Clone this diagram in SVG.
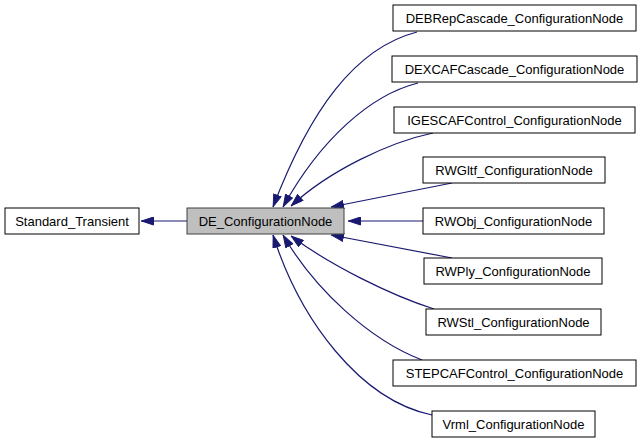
<svg xmlns="http://www.w3.org/2000/svg" width="641" height="443" viewBox="0 0 641 443">
<style>
.node rect{fill:#ffffff;stroke:#000000;stroke-width:1}
.node.cur rect{fill:#bfbfbf;stroke:#404040}
.node text{font-family:"Liberation Sans",Arial,sans-serif;font-size:13px;fill:#000000;text-anchor:middle}
.edges path{fill:none;stroke:#191970;stroke-width:1.2}
</style>
<defs>
<marker id="ah" viewBox="0 0 13 9" refX="13" refY="4.5" markerWidth="13" markerHeight="9" markerUnits="userSpaceOnUse" orient="auto">
<path d="M0.5,0.5 L12.5,4.5 L0.5,8.5 z" fill="#191970" stroke="#191970" stroke-width="1"/>
</marker>
</defs>
<rect width="641" height="443" fill="#ffffff"/>
<g class="edges">
<path marker-end="url(#ah)" d="M187,221 L141,221"/>
<path marker-end="url(#ah)" d="M417,32 C355,48 310,110 273,207"/>
<path marker-end="url(#ah)" d="M418,83 C370,95 320,140 283,207"/>
<path marker-end="url(#ah)" d="M433,133 C390,142 330,170 291,206"/>
<path marker-end="url(#ah)" d="M452,183 L331,207"/>
<path marker-end="url(#ah)" d="M423,221 L348,221"/>
<path marker-end="url(#ah)" d="M452,258 L331,235"/>
<path marker-end="url(#ah)" d="M434,309 C390,295 330,265 291,236"/>
<path marker-end="url(#ah)" d="M422,360 C370,340 315,290 283,235"/>
<path marker-end="url(#ah)" d="M432,415 C360,400 300,320 273,235"/>
</g>
<g id="Standard_Transient" class="node"><rect x="5" y="208" width="134" height="26"/><text x="72" y="225.5">Standard_Transient</text></g>
<g id="DE_ConfigurationNode" class="node cur"><rect x="187" y="208" width="157" height="26"/><text x="265.5" y="225.5">DE_ConfigurationNode</text></g>
<g id="DEBRepCascade_ConfigurationNode" class="node"><rect x="393" y="5" width="243" height="26"/><text x="514.5" y="22.5">DEBRepCascade_ConfigurationNode</text></g>
<g id="DEXCAFCascade_ConfigurationNode" class="node"><rect x="392" y="56" width="245" height="26"/><text x="514.5" y="73.5">DEXCAFCascade_ConfigurationNode</text></g>
<g id="IGESCAFControl_ConfigurationNode" class="node"><rect x="394" y="107" width="241" height="26"/><text x="514.5" y="124.5">IGESCAFControl_ConfigurationNode</text></g>
<g id="RWGltf_ConfigurationNode" class="node"><rect x="423" y="157" width="182" height="26"/><text x="514" y="174.5">RWGltf_ConfigurationNode</text></g>
<g id="RWObj_ConfigurationNode" class="node"><rect x="423" y="208" width="181" height="26"/><text x="513.5" y="225.5">RWObj_ConfigurationNode</text></g>
<g id="RWPly_ConfigurationNode" class="node"><rect x="424" y="258" width="178" height="26"/><text x="513" y="275.5">RWPly_ConfigurationNode</text></g>
<g id="RWStl_ConfigurationNode" class="node"><rect x="426" y="309" width="175" height="26"/><text x="513.5" y="326.5">RWStl_ConfigurationNode</text></g>
<g id="STEPCAFControl_ConfigurationNode" class="node"><rect x="393" y="360" width="243" height="26"/><text x="514.5" y="377.5">STEPCAFControl_ConfigurationNode</text></g>
<g id="Vrml_ConfigurationNode" class="node"><rect x="432" y="411" width="163" height="26"/><text x="513.5" y="428.5">Vrml_ConfigurationNode</text></g>
</svg>
